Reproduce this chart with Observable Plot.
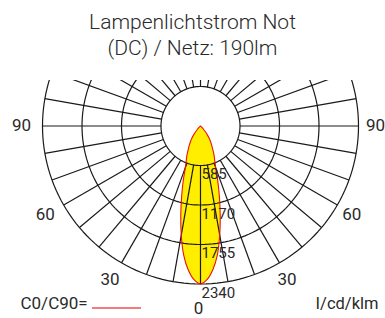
<!DOCTYPE html>
<html><head><meta charset="utf-8">
<script src="https://cdn.jsdelivr.net/npm/d3@7"></script>
<script src="https://cdn.jsdelivr.net/npm/@observablehq/plot@0.6"></script>
<style>
html,body{margin:0;padding:0;background:#fff;}
#title{width:385px;height:60px;box-sizing:border-box;padding-top:9px;text-align:center;font-family:Roboto,sans-serif;font-weight:300;font-size:21px;line-height:26px;color:#2a2a2a;}
#chart svg{display:block;}
</style></head><body>
<div id="title"><div>Lampenlichtstrom Not</div><div>(DC) / Netz: 190lm</div></div>
<div id="chart"></div>
<script>
// ---- data ----
const gammaDeg = [0, 2.5, 5, 7.5, 10, 12.5, 15, 17.5, 20, 22.5, 25, 27.5, 30, 32.5, 35, 37.5, 40, 42.5, 45, 47.5, 50, 60, 70, 80, 90];
const intensityC0C90 = [2340, 2275, 2130, 1920, 1640, 1350, 1080, 850, 660, 550, 475, 395, 335, 280, 227, 170, 116, 70, 30, 8, 0, 0, 0, 0, 0];
const ringValues = [585, 1170, 1755, 2340];
const ringLabels = ["585", "1170", "1755", "2340"];
const angleTicks = [0, 30, 60, 90];
const angleTickLabels = ["0", "30", "60", "90"];
const legendLabel = "C0/C90=";
const unitLabel = "I/cd/klm";

// ---- layout ----
const W = 385, H = 258;
const cx = 200, cy = 65.5, R = 158;
const rMax = 2340;
const k = R / rMax;            // px per cd/klm
const rad = d => d * Math.PI / 180;
const toUnitX = px => (px - cx) / k;
const toUnitY = py => (py - cy) / k;

// curve polygon (gamma measured from nadir, symmetric C0/C90)
const curve = [];
for (let i = gammaDeg.length - 1; i >= 0; i--) curve.push({g: -gammaDeg[i], I: intensityC0C90[i]});
for (let i = 1; i < gammaDeg.length; i++) curve.push({g: gammaDeg[i], I: intensityC0C90[i]});
curve.forEach(p => { p.x = p.I * Math.sin(rad(p.g)); p.y = p.I * Math.cos(rad(p.g)); });

// grid rings
const ringPts = [];
for (const r of ringValues) for (let a = 0; a <= 360; a += 2) ringPts.push({r, x: r * Math.sin(rad(a)), y: r * Math.cos(rad(a))});
// spokes every 10 degrees from first ring to outer ring
const spokes = d3.range(0, 360, 10).map(a => ({
  x1: ringValues[0] * Math.sin(rad(a)), y1: ringValues[0] * Math.cos(rad(a)),
  x2: rMax * Math.sin(rad(a)), y2: rMax * Math.cos(rad(a))
}));
// angle labels
const angleLabels = [];
angleTicks.forEach((a, i) => {
  const lr = (a === 0 ? 182.5 : 177) / k;
  angleLabels.push({t: angleTickLabels[i], x: -lr * Math.sin(rad(a)), y: lr * Math.cos(rad(a))});
  if (a !== 0) angleLabels.push({t: angleTickLabels[i], x: lr * Math.sin(rad(a)), y: lr * Math.cos(rad(a))});
});
const ringText = ringValues.map((r, i) => ({t: ringLabels[i], x: 0, y: r}));

const gridColor = "#1a1a1a";
const txt = "#2a2a2a";
const font = "Roboto, sans-serif";

const plot = Plot.plot({
  width: W, height: H,
  marginTop: 20, marginBottom: 0, marginLeft: 0, marginRight: 0,
  x: {domain: [toUnitX(0), toUnitX(W)], range: [0, W], axis: null},
  y: {domain: [toUnitY(0), toUnitY(H)], range: [0, H], axis: null},
  style: {fontFamily: font, background: "#fff", overflow: "visible"},
  marks: [
    Plot.line(curve, {x: "x", y: "y", fill: "#ffee00", stroke: "none", curve: "catmull-rom"}),
    Plot.line(ringPts, {x: "x", y: "y", z: "r", stroke: gridColor, strokeWidth: 1.2, clip: true}),
    Plot.link(spokes, {x1: "x1", y1: "y1", x2: "x2", y2: "y2", stroke: gridColor, strokeWidth: 1.2, clip: true}),
    Plot.line(curve, {x: "x", y: "y", stroke: "#ee1111", strokeWidth: 1.1, curve: "catmull-rom"}),
    Plot.text(ringText, {x: "x", y: "y", text: "t", textAnchor: "start", dx: 1, dy: 9, fontSize: 15, fill: txt}),
    Plot.text(angleLabels, {x: "x", y: "y", text: "t", dx: -2, fontSize: 17, fill: txt}),
    Plot.text([legendLabel], {frameAnchor: "bottom-left", text: d => d, textAnchor: "start", dx: 20, dy: -10, fontSize: 17, fill: txt}),
    Plot.ruleY([toUnitY(247.5)], {x1: toUnitX(92), x2: toUnitX(141), stroke: "#f05050", strokeWidth: 1.5}),
    Plot.text([unitLabel], {frameAnchor: "bottom-right", text: d => d, textAnchor: "end", dx: -7, dy: -10, fontSize: 16.5, fill: txt})
  ]
});
document.getElementById("chart").appendChild(plot);
</script>
</body></html>
